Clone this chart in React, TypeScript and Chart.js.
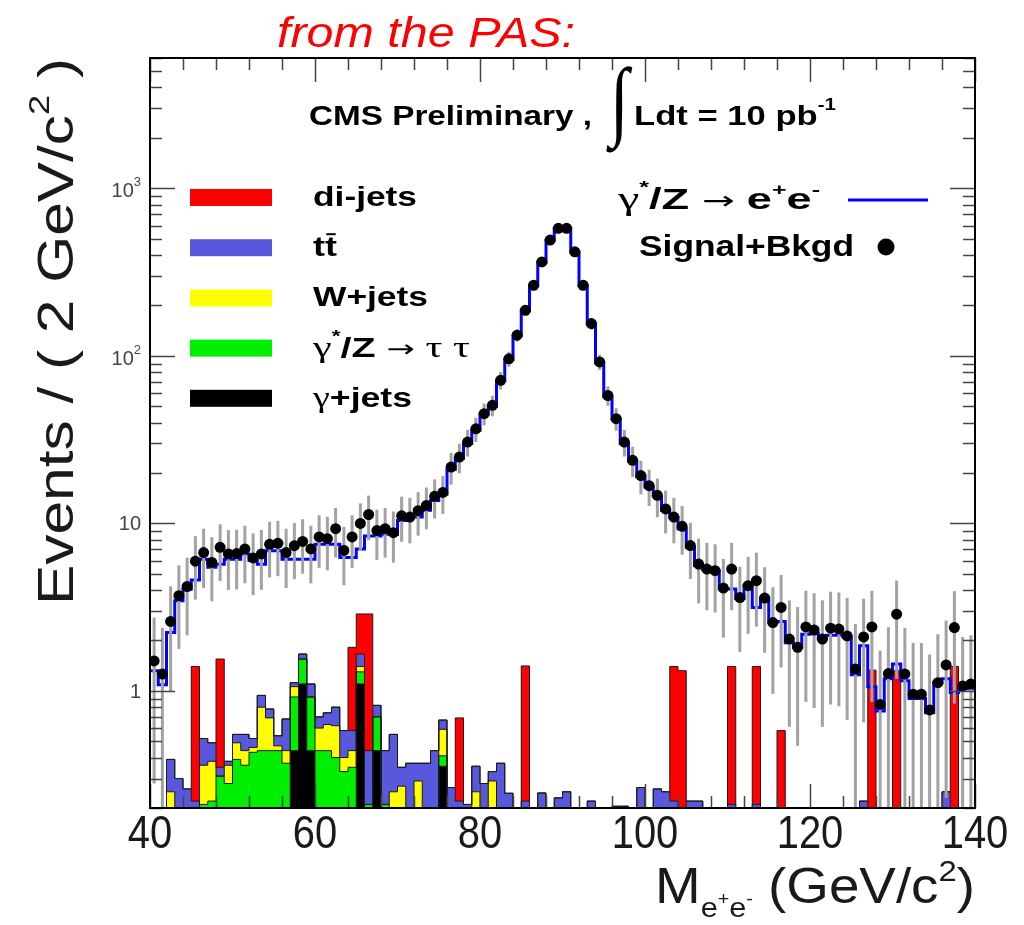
import { useEffect, useRef } from 'react';
import { Chart, registerables } from 'chart.js';

Chart.register(...registerables);

// ---------------- DATA ----------------
// 1 GeV/c^2 bins from 40 to 140 GeV/c^2
const binEdges: number[] = Array.from({ length: 101 }, (_, i) => 40 + i);
const binCenters: number[] = binEdges.slice(0, 100).map((e) => e + 0.5);

// Signal+Bkgd pseudo-data (events per bin)
const dataEvents = [
  1.51, 1.26, 2.6, 3.7, 4.2, 5.95, 6.7, 5.85, 7.2, 6.57,
  6.6, 7.04, 6.22, 6.57, 7.5, 7.6, 6.7, 7.36, 7.8, 7.04,
  8.3, 8.1, 9.3, 6.9, 8.3, 10.0, 11.3, 9.06, 9.3, 8.8,
  11.1, 10.9, 11.9, 12.8, 14.5, 15.3, 21.7, 24.9, 30.6, 36.7,
  45.2, 50.7, 71.5, 96, 133, 187, 264, 364, 491, 577,
  577, 418, 264, 156, 92, 58, 42.2, 30.6, 23.8, 19.3,
  16.8, 14.7, 12.2, 10.9, 9.6, 7.37, 5.72, 5.34, 5.22, 4.11,
  5.34, 3.61, 4.25, 4.55, 3.58, 2.56, 3.15, 2.04, 1.82, 2.41,
  2.31, 2.04, 2.37, 2.34, 2.13, 1.35, 2.1, 2.41, 0.83, 1.27,
  2.87, 1.26, 0.955, 0.955, 0.77, 1.12, 1.43, 2.39, 1.07, 1.1,
];

// vertical error bar half-widths of the data points
const dataErr = [
  1.23, 1.12, 1.61, 1.92, 2.05, 2.44, 2.59, 2.42, 2.68, 2.56,
  2.57, 2.65, 2.49, 2.56, 2.74, 2.76, 2.59, 2.71, 2.79, 2.65,
  2.88, 2.85, 3.05, 2.63, 2.88, 3.16, 3.36, 3.01, 3.05, 2.97,
  3.33, 3.3, 3.45, 3.58, 3.81, 3.91, 4.66, 4.99, 5.53, 6.06,
  6.72, 7.12, 8.46, 9.8, 11.5, 13.7, 16.2, 19.1, 22.2, 24.0,
  24.0, 20.4, 16.2, 12.5, 9.6, 7.6, 6.5, 5.53, 4.88, 4.39,
  4.1, 3.83, 3.49, 3.3, 3.1, 2.71, 2.39, 2.31, 2.28, 2.03,
  2.31, 1.9, 2.06, 2.13, 1.89, 1.6, 1.77, 1.43, 1.35, 1.55,
  1.52, 1.43, 1.54, 1.53, 1.46, 1.16, 1.45, 1.55, 0.91, 1.13,
  1.69, 1.12, 0.98, 0.98, 0.88, 1.06, 1.2, 1.55, 1.03, 1.05,
];

// gamma*/Z -> e+e- (blue line)
const signalZee = [
  1.32, 1.09, 2.23, 3.45, 4.05, 4.6, 6.1, 5.47, 5.7, 6.1,
  6.1, 6.57, 6.0, 5.7, 6.87, 6.87, 6.1, 6.1, 6.1, 6.1,
  7.5, 7.5, 7.5, 6.26, 6.26, 7.04, 8.4, 8.4, 8.6, 8.6,
  10.4, 10.9, 10.9, 12.0, 13.7, 15.0, 21.0, 24.5, 30.0, 36.0,
  45.0, 50.0, 71.0, 95, 132, 186, 262, 362, 490, 575,
  575, 416, 262, 155, 91, 57, 42, 30, 23.5, 19,
  16.5, 14.5, 12.0, 10.8, 9.3, 7.2, 5.6, 5.3, 5.2, 4.06,
  4.06, 3.56, 4.25, 3.15, 3.6, 2.56, 2.6, 1.94, 1.82, 2.18,
  2.2, 2.05, 2.15, 2.15, 2.1, 1.25, 1.86, 1.06, 0.76, 1.18,
  1.45, 1.15, 0.9, 0.9, 0.74, 1.12, 1.18, 0.98, 1.03, 1.03,
];

// stacked backgrounds (bottom to top)
const gammaJets = [
  0, 0, 0, 0, 0, 0, 0, 0, 0, 0,
  0, 0, 0, 0, 0, 0, 0, 0.44, 1.1, 0.44,
  0, 0, 0, 0, 0, 1.1, 0, 0.44, 0, 0,
  0, 0, 0, 0, 0, 0.355, 0, 0, 0, 0,
  0, 0, 0, 0, 0, 0, 0, 0, 0, 0,
  0, 0, 0, 0, 0, 0, 0, 0, 0, 0,
  0, 0, 0, 0, 0, 0, 0, 0, 0, 0,
  0, 0, 0, 0, 0, 0, 0, 0, 0, 0,
  0, 0, 0, 0, 0, 0, 0, 0, 0, 0,
  0, 0, 0, 0, 0, 0, 0, 0, 0, 0,
];
const zTauTau = [
  0, 0, 0, 0, 0, 0, 0.21, 0.22, 0.31, 0.28,
  0.39, 0.36, 0.43, 0.44, 0.44, 0.44, 0.37, 0.48, 0.45, 0.48,
  0.44, 0.44, 0.4, 0.33, 0.35, 0.2, 0.21, 0.26, 0.21, 0,
  0, 0, 0, 0, 0, 0.055, 0, 0, 0, 0,
  0, 0, 0, 0, 0, 0, 0, 0, 0, 0,
  0, 0, 0, 0, 0, 0, 0, 0, 0, 0,
  0, 0, 0, 0, 0, 0, 0, 0, 0, 0,
  0, 0, 0, 0, 0, 0, 0, 0, 0, 0,
  0, 0, 0, 0, 0, 0, 0, 0, 0, 0,
  0, 0, 0, 0, 0, 0, 0, 0, 0, 0,
];
const wJets = [
  0, 0, 0.25, 0, 0, 0, 0.15, 0.16, 0, 0.08,
  0.1, 0.08, 0.03, 0.36, 0.25, 0.03, 0.07, 0.14, 0, 0,
  0.16, 0.19, 0.22, 0.07, 0.09, 0.1, 0, 0, 0, 0.25,
  0.27, 0, 0.29, 0, 0, 0.18, 0, 0, 0, 0.25,
  0, 0.29, 0, 0, 0, 0, 0, 0, 0, 0,
  0, 0, 0, 0, 0, 0, 0, 0, 0, 0,
  0, 0, 0, 0, 0, 0, 0, 0, 0, 0,
  0, 0, 0, 0, 0, 0, 0, 0, 0, 0,
  0, 0, 0, 0, 0, 0, 0, 0, 0, 0,
  0, 0, 0, 0, 0, 0, 0, 0, 0, 0,
];
const ttbar = [
  0, 0, 0.14, 0.3, 0.26, 0.22, 0.16, 0.11, 0.04, 0.02,
  0.06, 0.11, 0.06, 0.14, 0.09, 0.07, 0.24, 0.06, 0.11, 0.18,
  0.1, 0.11, 0.18, 0.18, 0.14, 0.26, 0.23, 0.12, 0.23, 0.3,
  0.08, 0.37, 0.08, 0.37, 0.44, 0.08, 0.265, 0.22, 0.21, 0.105,
  0.28, 0.04, 0.37, 0.245, 0, 0.22, 0, 0.246, 0, 0.23,
  0.25, 0, 0, 0.22, 0, 0, 0.205, 0.205, 0, 0.265,
  0, 0.26, 0.25, 0.22, 0.12, 0.22, 0.22, 0, 0, 0,
  0.21, 0, 0, 0.21, 0, 0, 0, 0, 0, 0,
  0, 0, 0, 0, 0, 0, 0.22, 0.14, 0, 0,
  0.13, 0, 0, 0, 0, 0, 0.25, 0.2, 0, 0,
];
const diJets = [
  0, 0, 0, 0, 0, 1.18, 0, 0, 1.2, 0,
  0, 0, 0, 0, 0, 0, 0, 0, 0, 0,
  0, 0, 0, 0, 1.24, 1.22, 2.44, 0, 0, 0,
  0, 0, 0, 0, 0, 0, 0, 0.47, 0, 0,
  0, 0, 0, 0, 0, 1.19, 0, 0, 0, 0,
  0, 0, 0, 0, 0, 0, 0, 0, 0, 0,
  0, 0, 0, 1.18, 1.2, 0, 0, 0, 0, 0,
  1.19, 0, 0, 1.19, 0, 0, 0.58, 0, 0, 0,
  0, 0, 0, 0, 0, 0, 0, 1.19, 0, 0,
  1.19, 0, 0, 0, 0, 0, 0, 1.2, 0, 0,
];

const xMajorTicks = [40, 60, 80, 100, 120, 140];
const xMinorStep = 4;
const yMajorTicks = [1, 10, 100, 1000];
const yTickLabels: [string, string][] = [['1', ''], ['10', ''], ['10', '2'], ['10', '3']];
const Y_MIN = 0.2;
const Y_MAX = 6000;

// ---------------- STYLE ----------------
const SANS = '"Liberation Sans", Arial, Helvetica, sans-serif';
const SERIF = '"Liberation Serif", "Times New Roman", serif';
const SYM = '"DejaVu Sans", sans-serif';
const B = (px: number) => `bold ${px}px ${SANS}`;
const R = (px: number) => `${px}px ${SANS}`;
const G = (px: number) => `${px}px ${SERIF}`;
const A = (px: number) => `${px}px ${SYM}`;

const C_DIJET = '#ff0000';
const C_TTBAR = '#5858dc';
const C_WJETS = '#ffff00';
const C_ZTT = '#00ee00';
const C_GJETS = '#000000';
const C_SIGNAL = '#0000ff';

type Seg = { t: string; f: string; dy?: number; over?: boolean };

function segWidth(ctx: CanvasRenderingContext2D, segs: Seg[]) {
  let w = 0;
  for (const s of segs) {
    ctx.font = s.f;
    w += ctx.measureText(s.t).width;
  }
  return w;
}

function drawRich(
  ctx: CanvasRenderingContext2D,
  segs: Seg[],
  x: number,
  y: number,
  o: { w?: number; sx?: number; sy?: number; align?: 'left' | 'center' | 'right'; color?: string; rot?: number } = {}
) {
  const natural = segWidth(ctx, segs);
  const sx = o.w ? o.w / natural : o.sx ?? 1;
  const total = natural * sx;
  ctx.save();
  ctx.translate(x, y);
  if (o.rot) ctx.rotate(o.rot);
  let start = 0;
  if (o.align === 'center') start = -total / 2;
  else if (o.align === 'right') start = -total;
  ctx.translate(start, 0);
  ctx.scale(sx, o.sy ?? 1);
  ctx.fillStyle = o.color ?? '#000';
  ctx.strokeStyle = o.color ?? '#000';
  ctx.textAlign = 'left';
  ctx.textBaseline = 'alphabetic';
  let cx = 0;
  for (const s of segs) {
    ctx.font = s.f;
    ctx.fillText(s.t, cx, s.dy ?? 0);
    const mw = ctx.measureText(s.t).width;
    if (s.over) {
      ctx.lineWidth = 2;
      ctx.beginPath();
      ctx.moveTo(cx + 1, (s.dy ?? 0) - 22);
      ctx.lineTo(cx + mw - 1, (s.dy ?? 0) - 22);
      ctx.stroke();
    }
    cx += mw;
  }
  ctx.restore();
}

const FLOOR = 0.01;
const toEdgePoints = (vals: number[]) =>
  binEdges.map((x, i) => ({ x, y: Math.max(vals[Math.min(i, vals.length - 1)], FLOOR) }));

const DOTS_INDEX = 6;

const errorBarPlugin = {
  id: 'errorBars',
  beforeDatasetDraw(chart: any, args: any) {
    if (args.index !== DOTS_INDEX) return;
    const { ctx, chartArea } = chart;
    const xs = chart.scales.x;
    const ys = chart.scales.y;
    ctx.save();
    ctx.beginPath();
    ctx.rect(chartArea.left, chartArea.top, chartArea.right - chartArea.left, chartArea.bottom - chartArea.top);
    ctx.clip();
    ctx.strokeStyle = '#a2a2a2';
    ctx.lineWidth = 3;
    binCenters.forEach((c, i) => {
      const v = dataEvents[i];
      const e = dataErr[i];
      const px = xs.getPixelForValue(c);
      const top = ys.getPixelForValue(v + e);
      const lo = v - e;
      const bot = lo > 0 ? ys.getPixelForValue(lo) : chartArea.bottom;
      ctx.beginPath();
      ctx.moveTo(px, top);
      ctx.lineTo(px, bot);
      ctx.stroke();
    });
    ctx.restore();
  },
};

const decorPlugin = {
  id: 'decor',
  afterDraw(chart: any) {
    const { ctx, chartArea } = chart;
    const xs = chart.scales.x;
    const ys = chart.scales.y;
    const { left, right, top, bottom } = chartArea;

    // ticks
    ctx.save();
    ctx.strokeStyle = '#444';
    ctx.lineWidth = 1.5;
    for (let v = xMajorTicks[0]; v <= xMajorTicks[xMajorTicks.length - 1]; v += xMinorStep) {
      const major = xMajorTicks.includes(v);
      const len = major ? 24 : 12;
      const px = Math.round(xs.getPixelForValue(v)) + 0.5;
      ctx.beginPath();
      ctx.moveTo(px, bottom);
      ctx.lineTo(px, bottom - len);
      ctx.moveTo(px, top);
      ctx.lineTo(px, top + len);
      ctx.stroke();
    }
    for (let d = 0.1; d <= 1000; d *= 10) {
      for (let m = 1; m <= 9; m++) {
        const v = Math.round(m * d * 1000) / 1000;
        if (v < Y_MIN || v > Y_MAX) continue;
        const major = m === 1;
        const len = major ? 25 : 12;
        const py = Math.round(ys.getPixelForValue(v)) + 0.5;
        ctx.beginPath();
        ctx.moveTo(left, py);
        ctx.lineTo(left + len, py);
        ctx.moveTo(right, py);
        ctx.lineTo(right - len, py);
        ctx.stroke();
      }
    }
    ctx.restore();

    // frame
    ctx.save();
    ctx.strokeStyle = '#000';
    ctx.lineWidth = 2;
    ctx.strokeRect(left, top, right - left, bottom - top);
    ctx.restore();

    // x tick labels
    xMajorTicks.forEach((v) => {
      drawRich(ctx, [{ t: String(v), f: R(47) }], xs.getPixelForValue(v), 848, { align: 'center', sx: 0.85, color: '#1a1a1a' });
    });
    // y tick labels
    yMajorTicks.forEach((v, i) => {
      const [base, sup] = yTickLabels[i];
      const py = ys.getPixelForValue(v);
      const segs: Seg[] = [{ t: base, f: R(20) }];
      if (sup) segs.push({ t: sup, f: R(13), dy: -11 });
      drawRich(ctx, segs, 141, py + 7 + (sup ? 2 : 0), { align: 'right', color: '#444' });
    });

    // axis titles
    drawRich(
      ctx,
      [
        { t: 'Events / ( 2 GeV/c', f: R(50) },
        { t: '2', f: R(30), dy: -24 },
        { t: ' )', f: R(50) },
      ],
      73,
      605,
      { w: 547, rot: -Math.PI / 2, color: '#1a1a1a' }
    );
    drawRich(
      ctx,
      [
        { t: 'M', f: R(50) },
        { t: 'e', f: R(28), dy: 14 },
        { t: '+', f: R(18), dy: 2 },
        { t: 'e', f: R(28), dy: 14 },
        { t: '-', f: R(18), dy: 2 },
        { t: ' (GeV/c', f: R(50) },
        { t: '2', f: R(30), dy: -22 },
        { t: ')', f: R(50) },
      ],
      655,
      903,
      { w: 320, color: '#1a1a1a' }
    );

    // header
    drawRich(ctx, [{ t: 'from the PAS:', f: `italic 42px ${SANS}` }], 277, 47, { w: 298, color: '#ff0000' });

    // CMS label
    drawRich(ctx, [{ t: 'CMS Preliminary ,', f: B(27) }], 309, 125, { w: 283 });
    drawRich(ctx, [{ t: '\u222B', f: G(88) }], 610, 129, { sx: 0.78 });
    drawRich(ctx, [{ t: 'Ldt = 10 pb', f: B(27) }, { t: '-1', f: B(16), dy: -15 }], 634, 125, { w: 202 });

    // left legend
    const leg: { color: string; segs: Seg[]; w: number }[] = [
      { color: C_DIJET, segs: [{ t: 'di-jets', f: B(28) }], w: 104 },
      { color: C_TTBAR, segs: [{ t: 't', f: B(28) }, { t: 't', f: B(28), over: true }], w: 24 },
      { color: C_WJETS, segs: [{ t: 'W+jets', f: B(28) }], w: 115 },
      {
        color: C_ZTT,
        segs: [
          { t: '\u03B3', f: G(30) },
          { t: '*', f: B(16), dy: -15 },
          { t: '/Z ', f: B(28) },
          { t: '\u2192 ', f: A(24) },
          { t: '\u03C4 \u03C4', f: G(30) },
        ],
        w: 157,
      },
      { color: C_GJETS, segs: [{ t: '\u03B3', f: G(30) }, { t: '+jets', f: B(28) }], w: 99 },
    ];
    leg.forEach((l, i) => {
      const cy = 197 + i * 50.2;
      ctx.save();
      ctx.fillStyle = l.color;
      ctx.fillRect(190, cy - 8, 82, 17);
      ctx.restore();
      drawRich(ctx, l.segs, 313, cy + 9, { w: l.w });
    });

    // right legend
    drawRich(
      ctx,
      [
        { t: '\u03B3', f: G(31) },
        { t: '*', f: B(16), dy: -16 },
        { t: '/Z ', f: B(29) },
        { t: '\u2192 ', f: A(25) },
        { t: 'e', f: B(29) },
        { t: '+', f: B(16), dy: -14 },
        { t: 'e', f: B(29) },
        { t: '-', f: B(16), dy: -14 },
      ],
      618,
      209,
      { w: 202 }
    );
    ctx.save();
    ctx.strokeStyle = C_SIGNAL;
    ctx.lineWidth = 3;
    ctx.beginPath();
    ctx.moveTo(848, 200);
    ctx.lineTo(928, 200);
    ctx.stroke();
    ctx.restore();
    drawRich(ctx, [{ t: 'Signal+Bkgd', f: B(29) }], 639, 256, { w: 215 });
    ctx.save();
    ctx.fillStyle = '#000';
    ctx.beginPath();
    ctx.arc(886, 247, 8.5, 0, Math.PI * 2);
    ctx.fill();
    ctx.restore();
  },
};

export default function App() {
  const canvasRef = useRef<HTMLCanvasElement | null>(null);

  useEffect(() => {
    if (!canvasRef.current) return;
    const layers = [
      { label: '\u03B3+jets', vals: gammaJets, color: C_GJETS },
      { label: '\u03B3*/Z \u2192 \u03C4\u03C4', vals: zTauTau, color: C_ZTT },
      { label: 'W+jets', vals: wJets, color: C_WJETS },
      { label: 'tt\u0304', vals: ttbar, color: C_TTBAR },
      { label: 'di-jets', vals: diJets, color: C_DIJET },
    ];
    let run = new Array(100).fill(0);
    const layerSets = layers.map((l, k) => {
      run = run.map((v, i) => v + l.vals[i]);
      return {
        type: 'line' as const,
        label: l.label,
        data: toEdgePoints(run),
        stepped: true,
        fill: k === 0 ? 'start' : '-1',
        backgroundColor: l.color,
        borderColor: '#1a1a1a',
        borderWidth: 1,
        pointRadius: 0,
        order: 10 - k,
      };
    });

    const chart = new Chart(canvasRef.current, {
      type: 'line',
      data: {
        datasets: [
          ...layerSets,
          {
            type: 'line',
            label: '\u03B3*/Z \u2192 e+e-',
            data: toEdgePoints(signalZee),
            stepped: true,
            fill: false,
            borderColor: C_SIGNAL,
            borderWidth: 3,
            pointRadius: 0,
            order: 1,
          },
          {
            type: 'line',
            label: 'Signal+Bkgd',
            data: binCenters.map((x, i) => ({ x, y: dataEvents[i] })),
            showLine: false,
            pointRadius: 5.5,
            pointBackgroundColor: '#000',
            pointBorderWidth: 0,
            order: 0,
          },
        ] as any,
      },
      options: {
        animation: false,
        responsive: false,
        maintainAspectRatio: false,
        devicePixelRatio: 1,
        layout: { padding: { left: 150, right: 49, top: 58, bottom: 117 } },
        scales: {
          x: { type: 'linear', min: 40, max: 140, display: false },
          y: { type: 'logarithmic', min: Y_MIN, max: Y_MAX, display: false },
        },
        plugins: {
          legend: { display: false },
          tooltip: { enabled: false },
          filler: { propagate: false, drawTime: 'beforeDatasetsDraw' },
        } as any,
        events: [],
      },
      plugins: [errorBarPlugin, decorPlugin],
    });
    return () => chart.destroy();
  }, []);

  return (
    <div style={{ position: 'absolute', left: 0, top: 0, width: 1024, height: 925, background: '#fff' }}>
      <canvas ref={canvasRef} width={1024} height={925} style={{ width: 1024, height: 925, display: 'block' }} />
    </div>
  );
}
